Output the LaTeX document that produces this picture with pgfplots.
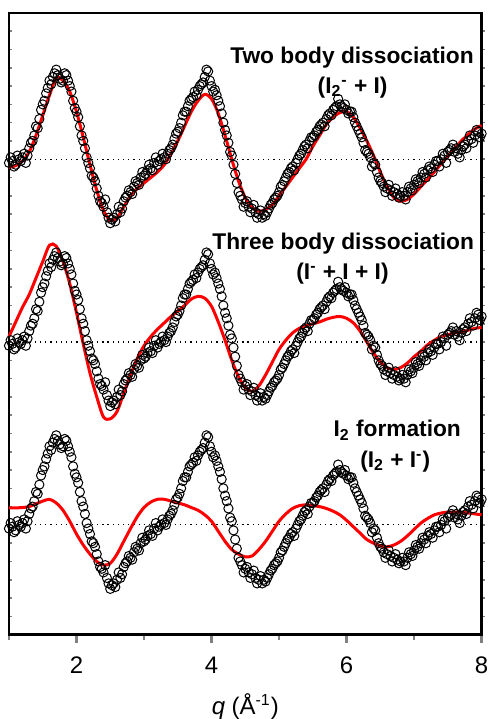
\documentclass[border=0pt]{standalone}
\usepackage{amsmath}
\usepackage{fontspec}
\setmainfont{Liberation Sans}
\usepackage{pgfplots}
\usepackage{pgfplotstable}
\pgfplotsset{compat=1.18}

\definecolor{cFit}{HTML}{FF0000}

% measured signal (shared by all three panels), offset per panel below
\pgfplotstableread{
q d
1.00 -0.2
1.025 0.1
1.05 -0.1
1.075 -0.4
1.10 -0.3
1.125 0.2
1.15 0.0
1.175 -0.1
1.20 0.1
1.225 0.3
1.25 -0.2
1.275 0.2
1.30 0.6
1.325 0.9
1.35 1.0
1.375 1.3
1.40 1.8
1.425 1.7
1.45 2.2
1.475 2.7
1.50 3.0
1.525 3.2
1.55 3.6
1.575 3.9
1.60 4.3
1.625 4.1
1.65 4.5
1.675 4.7
1.70 4.9
1.725 4.6
1.75 4.4
1.775 4.2
1.80 4.3
1.825 4.7
1.85 4.6
1.875 4.3
1.90 4.0
1.925 3.7
1.95 3.2
1.975 2.8
2.00 2.6
2.025 2.3
2.05 1.8
2.075 1.3
2.10 1.0
2.125 0.6
2.15 0.1
2.175 -0.2
2.20 -0.5
2.225 -0.9
2.25 -1.0
2.275 -1.2
2.30 -1.6
2.325 -2.0
2.35 -2.3
2.375 -2.4
2.40 -2.6
2.425 -2.2
2.45 -2.9
2.475 -3.2
2.50 -3.5
2.525 -3.3
2.55 -3.2
2.575 -3.4
2.60 -3.0
2.625 -2.6
2.65 -2.9
2.675 -2.7
2.70 -2.3
2.725 -2.1
2.75 -2.0
2.775 -1.7
2.80 -1.8
2.825 -1.9
2.85 -1.5
2.875 -1.2
2.90 -1.3
2.925 -1.4
2.95 -1.0
2.975 -0.7
3.00 -0.9
3.025 -0.8
3.05 -0.6
3.075 -0.3
3.10 -0.5
3.125 -0.6
3.15 -0.2
3.175 0.1
3.20 -0.3
3.225 -0.1
3.25 0.0
3.275 0.3
3.30 0.1
3.325 0.0
3.35 0.3
3.375 0.5
3.40 0.6
3.425 0.8
3.45 1.1
3.475 1.4
3.50 1.5
3.525 1.7
3.55 2.0
3.575 2.4
3.60 2.6
3.625 2.6
3.65 2.9
3.675 3.2
3.70 3.3
3.725 3.4
3.75 3.7
3.775 3.5
3.80 3.8
3.825 4.0
3.85 4.1
3.875 4.2
3.90 4.5
3.925 4.9
3.95 4.8
3.975 4.3
4.00 4.0
4.025 3.7
4.05 3.8
4.075 3.5
4.10 3.2
4.125 2.9
4.15 2.5
4.175 2.0
4.20 1.6
4.225 1.3
4.25 0.9
4.275 0.4
4.30 0.2
4.325 -0.3
4.35 -0.8
4.375 -1.3
4.40 -1.8
4.425 -2.0
4.45 -2.2
4.475 -2.6
4.50 -2.4
4.525 -2.3
4.55 -2.6
4.575 -2.9
4.60 -2.7
4.625 -2.5
4.65 -2.9
4.675 -3.2
4.70 -3.0
4.725 -2.8
4.75 -3.2
4.775 -3.0
4.80 -3.1
4.825 -2.9
4.85 -2.7
4.875 -2.5
4.90 -2.4
4.925 -2.2
4.95 -2.1
4.975 -2.0
5.00 -1.8
5.025 -1.5
5.05 -1.4
5.075 -1.2
5.10 -1.0
5.125 -0.8
5.15 -0.7
5.175 -0.5
5.20 -0.4
5.225 -0.6
5.25 -0.2
5.275 0.0
5.30 0.2
5.325 0.3
5.35 0.5
5.375 0.7
5.40 0.8
5.425 0.6
5.45 1.0
5.475 1.2
5.50 1.2
5.525 1.3
5.55 1.5
5.575 1.6
5.60 1.8
5.625 1.9
5.65 2.0
5.675 1.8
5.70 2.2
5.725 2.4
5.75 2.5
5.775 2.4
5.80 2.7
5.825 2.8
5.85 2.9
5.875 3.3
5.90 3.0
5.925 2.9
5.95 2.8
5.975 3.0
6.00 2.7
6.025 2.5
6.05 2.6
6.075 2.6
6.10 2.3
6.125 2.0
6.15 1.8
6.175 1.6
6.20 1.4
6.225 1.2
6.25 0.9
6.275 0.5
6.30 0.4
6.325 0.3
6.35 0.1
6.375 -0.4
6.40 -0.2
6.425 -0.3
6.45 -0.7
6.475 -1.0
6.50 -1.2
6.525 -1.3
6.55 -1.5
6.575 -1.8
6.60 -1.6
6.625 -1.4
6.65 -1.7
6.675 -2.0
6.70 -1.8
6.725 -1.6
6.75 -1.9
6.775 -2.1
6.80 -2.0
6.825 -1.8
6.85 -2.0
6.875 -2.2
6.90 -1.8
6.925 -1.5
6.95 -1.6
6.975 -1.7
7.00 -1.4
7.025 -1.1
7.05 -1.2
7.075 -1.3
7.10 -1.0
7.125 -0.7
7.15 -0.8
7.175 -1.0
7.20 -0.6
7.225 -0.4
7.25 -0.5
7.275 -0.7
7.30 -0.3
7.325 -0.1
7.35 -0.1
7.375 -0.4
7.40 0.0
7.425 0.3
7.45 0.2
7.475 -0.2
7.50 0.4
7.525 0.5
7.55 0.6
7.575 0.8
7.60 0.4
7.625 0.6
7.65 0.3
7.675 0.1
7.70 0.5
7.725 0.7
7.75 0.8
7.775 0.6
7.80 1.0
7.825 1.3
7.85 1.1
7.875 0.9
7.90 1.3
7.925 1.6
7.95 1.5
7.975 1.2
8.00 1.4
}\datatab

% model curves: two body, three body, I2 formation
\pgfplotstableread{
q top mid bot
1.0 -0.45 0.3 0.93
1.1 -0.35 1.1 0.93
1.2 -0.1 1.9 0.95
1.3 0.4 2.6 1.0
1.4 1.3 3.5 1.15
1.5 2.4 4.4 1.3
1.6 3.5 5.3 1.4
1.7 4.45 5.25 1.2
1.8 4.3 4.4 0.8
1.9 3.7 3.2 0.2
2.0 2.6 1.6 -0.5
2.1 1.2 -0.1 -1.1
2.2 -0.3 -1.7 -1.6
2.3 -1.7 -3.0 -2.0
2.4 -2.8 -4.1 -2.2
2.5 -3.35 -4.2 -2.1
2.6 -3.2 -3.8 -1.6
2.7 -2.6 -2.8 -0.9
2.8 -2.0 -1.8 -0.2
2.9 -1.6 -0.9 0.45
3.0 -1.3 -0.2 0.95
3.1 -1.0 0.3 1.25
3.2 -0.7 0.7 1.4
3.3 -0.3 1.05 1.4
3.4 0.3 1.4 1.3
3.5 1.0 1.7 1.2
3.6 1.8 2.0 1.1
3.7 2.6 2.35 0.95
3.8 3.2 2.5 0.8
3.9 3.55 2.4 0.55
4.0 3.3 1.95 0.2
4.1 2.5 1.1 -0.35
4.2 1.3 0.1 -0.9
4.3 0.0 -1.0 -1.35
4.4 -1.2 -1.9 -1.6
4.5 -2.1 -2.5 -1.75
4.6 -2.65 -2.7 -1.7
4.7 -2.85 -2.4 -1.35
4.8 -2.75 -1.8 -0.9
4.9 -2.5 -1.1 -0.35
5.0 -2.0 -0.4 0.2
5.1 -1.5 0.1 0.6
5.2 -1.0 0.5 0.9
5.3 -0.5 0.75 1.05
5.4 0.0 0.9 1.1
5.5 0.7 1.0 1.05
5.6 1.3 1.1 1.0
5.7 1.9 1.25 0.9
5.8 2.3 1.35 0.75
5.9 2.55 1.4 0.55
6.0 2.6 1.3 0.25
6.1 2.3 1.05 -0.1
6.2 1.7 0.6 -0.45
6.3 1.0 0.0 -0.8
6.4 0.2 -0.6 -1.0
6.5 -0.7 -1.1 -1.15
6.6 -1.5 -1.4 -1.2
6.7 -2.1 -1.5 -1.1
6.8 -2.3 -1.4 -0.9
6.9 -2.2 -1.15 -0.6
7.0 -1.9 -0.8 -0.25
7.1 -1.5 -0.5 0.1
7.2 -1.1 -0.15 0.35
7.3 -0.7 0.1 0.55
7.4 -0.25 0.3 0.65
7.5 0.15 0.4 0.7
7.6 0.6 0.5 0.7
7.7 1.0 0.55 0.7
7.8 1.35 0.65 0.65
7.9 1.65 0.75 0.6
8.0 1.85 0.8 0.55
}\fittab

\begin{document}
\begin{tikzpicture}
  % short y ticks: inside on the left, outside on the right
  \begin{axis}[
    scale only axis, width=237pt, height=311.7pt,
    xmin=1, xmax=8, ymin=0, ymax=34,
    xtick=\empty, ytick={1,...,33}, yticklabels={},
    yticklabel style={inner sep=0pt, outer sep=0pt},
    ytick pos=left, tick align=inside,
    major tick length=1.5pt,
    ytick style={line width=0.8pt},
    axis line style={draw=none},
  ]
  \end{axis}
  \begin{axis}[
    scale only axis, width=237pt, height=311.7pt,
    xmin=1, xmax=8, ymin=0, ymax=34,
    xtick=\empty, ytick={1,...,33}, yticklabels={},
    yticklabel style={inner sep=0pt, outer sep=0pt},
    ytick pos=right, tick align=outside,
    major tick length=1.5pt,
    ytick style={line width=0.8pt},
    axis line style={draw=none},
  ]
  \end{axis}
  \begin{axis}[
    name=ax, scale only axis,
    width=237pt, height=311.7pt,
    xmin=1, xmax=8, ymin=0, ymax=34,
    xtick={2,4,6,8}, minor xtick={1,3,5,7}, ytick=\empty,
    xtick pos=bottom,
    tick align=outside,
    major tick length=4pt, minor tick length=2.5pt,
    axis line style={line width=1.2pt},
    xtick style={line width=1.2pt},
    ticklabel style={font=\fontsize{12}{14}\selectfont},
    xticklabel style={yshift=-3.5pt},
    /pgf/number format/assume math mode=true,
    xlabel={{\itshape q} (Å\textsuperscript{-1})},
    xlabel style={font=\fontsize{12}{14}\selectfont, inner sep=0pt, yshift=-6.3pt},
    clip=false,
  ]
    % zero lines of the three panels
    \addplot[black, dotted, line width=0.6pt] coordinates {(1,26) (8,26)};
    \addplot[black, dotted, line width=0.6pt] coordinates {(1,16) (8,16)};
    \addplot[black, dotted, line width=0.6pt] coordinates {(1,6) (8,6)};

    \addplot[only marks, mark=o, mark size=2.3pt, mark options={fill=white, draw=black, line width=0.5pt}]
      table[x=q, y expr=\thisrow{d}+26] {\datatab};
    \addplot[only marks, mark=o, mark size=2.3pt, mark options={fill=white, draw=black, line width=0.5pt}]
      table[x=q, y expr=\thisrow{d}+16] {\datatab};
    \addplot[only marks, mark=o, mark size=2.3pt, mark options={fill=white, draw=black, line width=0.5pt}]
      table[x=q, y expr=\thisrow{d}+6] {\datatab};

    \addplot[cFit, line width=1.5pt, smooth, no marks] table[x=q, y expr=\thisrow{top}+26] {\fittab};
    \addplot[cFit, line width=1.5pt, smooth, no marks] table[x=q, y expr=\thisrow{mid}+16] {\fittab};
    \addplot[cFit, line width=1.5pt, smooth, no marks] table[x=q, y expr=\thisrow{bot}+6] {\fittab};

    \node[font=\bfseries\fontsize{11.4}{13}\selectfont] at (axis cs:6.08,31.57) {Two body dissociation};
    \node[font=\bfseries\fontsize{11.4}{13}\selectfont] at (axis cs:6.09,29.93) {(I\textsubscript{2}\textsuperscript{-} + I)};
    \node[font=\bfseries\fontsize{11.4}{13}\selectfont] at (axis cs:5.95,21.37) {Three body dissociation};
    \node[font=\bfseries\fontsize{11.4}{13}\selectfont] at (axis cs:5.94,19.73) {(I\textsuperscript{-} + I + I)};
    \node[font=\bfseries\fontsize{11.4}{13}\selectfont] at (axis cs:6.75,11.17) {I\textsubscript{2} formation};
    \node[font=\bfseries\fontsize{11.4}{13}\selectfont] at (axis cs:6.72,9.48) {(I\textsubscript{2} + I\textsuperscript{-})};
  \end{axis}
  \path (ax.north west) ++(-4.5pt,6.5pt);
  \path (ax.south east) ++(2.5pt,0pt);
\end{tikzpicture}
\end{document}
